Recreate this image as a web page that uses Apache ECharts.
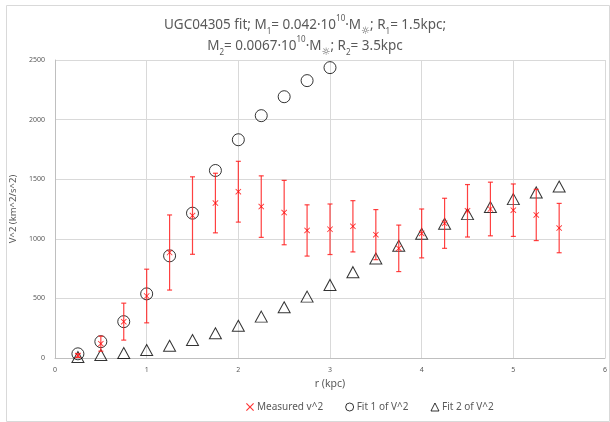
<!DOCTYPE html>
<html>
<head>
<meta charset="utf-8">
<script src="https://cdn.jsdelivr.net/npm/echarts@6/dist/echarts.min.js"></script>
<style>
  html, body { margin: 0; padding: 0; background: #fff; }
  #item { width: 610px; height: 422px; }
</style>
</head>
<body>
<div id="item"></div>
<script>
	var item = echarts.init(document.getElementById('item'));
	/*-- 半径 r (kpc) --*/
	let r = [0.25,0.5,0.75,1,1.25,1.5,1.75,2,2.25,2.5,2.75,3,3.25,3.5,3.75,4,4.25,4.5,4.75,5,5.25,5.5];
	/*-- 测量值及误差 --*/
	let measured = [20,120,305,520,885,1195,1300,1395,1270,1220,1070,1080,1105,1035,920,1045,1130,1235,1250,1240,1200,1090];
	let err = [15,63,155,225,315,325,250,255,258,270,215,212,215,210,195,205,210,220,225,220,215,207];
	/*-- 拟合 1 (到 3kpc) --*/
	let fit1 = [35,137,305,538,857,1215,1573,1831,2033,2192,2327,2436];
	/*-- 拟合 2 --*/
	let fit2 = [8,25,42,67,103,151,207,271,347,426,515,613,720,834,941,1042,1126,1207,1266,1333,1389,1439];

	let _meas = [], _err = [], _fit1 = [], _fit2 = [];
	r.forEach(function(v, i){
		_meas.push([v, measured[i]]);
		_err.push([v, measured[i], err[i]]);
		_fit2.push([v, fit2[i]]);
		if (i < fit1.length) _fit1.push([v, fit1[i]]);
	});

	let font = 'Noto Sans';
	let grey = '#595959';
	let xMark = 'path://M0,1L1,0L5,4L9,0L10,1L6,5L10,9L9,10L5,6L1,10L0,9L4,5Z';

	let _item = {
		animation: false,
		textStyle: { fontFamily: font },
		title: {
			text: '{n|UGC04305 fit; M}{s|1}{n|= 0.042·10}{p|10}{n|·M}{o|☼}{n|; R}{s|1}{n|= 1.5kpc;}\n' +
			      '{n|M}{s|2}{n|= 0.0067·10}{p|10}{n|·M}{o|☼}{n|; R}{s|2}{n|= 3.5kpc}',
			left: 'center',
			top: 10,
			textStyle: {
				fontWeight: 'normal',
				rich: {
					n: { fontSize: 13.5, color: grey, fontFamily: font, fontWeight: 'normal', lineHeight: 21 },
					s: { fontSize: 8, color: grey, fontFamily: font, fontWeight: 'normal', verticalAlign: 'bottom', lineHeight: 21, padding: [5, 0, 0, 0] },
					o: { fontSize: 10, color: grey, fontFamily: 'DejaVu Sans', fontWeight: 'normal', verticalAlign: 'bottom', lineHeight: 21, padding: [3, 0, 0, 0] },
					p: { fontSize: 8, color: grey, fontFamily: font, fontWeight: 'normal', verticalAlign: 'top', lineHeight: 21, padding: [0, 0, 5, 0] }
				}
			}
		},
		graphic: [{
			type: 'rect',
			shape: { x: 6.5, y: 5.5, width: 603, height: 416 },
			style: { fill: 'none', stroke: '#d9d9d9', lineWidth: 1 },
			silent: true
		}],
		grid: { left: 55, right: 5, top: 60, bottom: 64 },
		legend: {
			bottom: 5,
			left: 241,
			itemGap: 22,
			itemWidth: 8,
			itemHeight: 8,
			itemStyle: { borderWidth: 1 },
			data: ['Measured v^2', 'Fit 1 of V^2', 'Fit 2 of V^2'],
			textStyle: { color: grey, fontSize: 10, fontFamily: font, padding: [0, 0, 0, -2] }
		},
		xAxis: {
			type: 'value',
			min: 0,
			max: 6,
			interval: 1,
			name: 'r (kpc)',
			nameLocation: 'middle',
			nameGap: 21,
			nameTextStyle: { color: grey, fontSize: 10.5, fontFamily: font },
			axisLine: { show: true, lineStyle: { color: '#bfbfbf' } },
			axisTick: { show: false },
			axisLabel: { color: grey, fontSize: 7, margin: 8 },
			splitLine: { show: true, lineStyle: { color: '#d9d9d9' } }
		},
		yAxis: {
			type: 'value',
			min: 0,
			max: 2500,
			interval: 500,
			name: 'V^2 (km^2/s^2)',
			nameLocation: 'middle',
			nameGap: 27,
			nameTextStyle: { color: grey, fontSize: 9.5, fontFamily: font },
			axisLine: { show: true, lineStyle: { color: '#bfbfbf' } },
			axisTick: { show: false },
			axisLabel: { color: grey, fontSize: 7, margin: 10, formatter: function(v){ return String(v); } },
			splitLine: { show: true, lineStyle: { color: '#d9d9d9' } }
		},
		series: [
			/*误差线*/
			{
				name: 'err',
				type: 'custom',
				data: _err,
				z: 3,
				renderItem: function(params, api) {
					let x = api.value(0), y = api.value(1), e = api.value(2);
					let t = api.coord([x, y + e]);
					let b = api.coord([x, y - e]);
					let w = 2.5;
					let st = { stroke: '#ff2020', lineWidth: 1.2, opacity: 0.85 };
					return {
						type: 'group',
						children: [
							{ type: 'line', shape: { x1: t[0], y1: t[1], x2: b[0], y2: b[1] }, style: st },
							{ type: 'line', shape: { x1: t[0] - w, y1: t[1], x2: t[0] + w, y2: t[1] }, style: st },
							{ type: 'line', shape: { x1: b[0] - w, y1: b[1], x2: b[0] + w, y2: b[1] }, style: st }
						]
					};
				}
			},
			{
				name: 'Fit 1 of V^2',
				type: 'scatter',
				data: _fit1,
				symbol: 'circle',
				symbolSize: 12,
				itemStyle: { color: 'rgba(255,255,255,0)', borderColor: '#000', borderWidth: 1 },
				z: 2
			},
			{
				name: 'Fit 2 of V^2',
				type: 'scatter',
				data: _fit2,
				symbol: 'triangle',
				symbolSize: [12, 11],
				itemStyle: { color: 'rgba(255,255,255,0)', borderColor: '#000', borderWidth: 1 },
				z: 2
			},
			{
				name: 'Measured v^2',
				type: 'scatter',
				data: _meas,
				symbol: xMark,
				symbolSize: 6,
				itemStyle: { color: '#ff0000' },
				z: 4
			}
		]
	};
	item.setOption(_item);
</script>
</body>
</html>
